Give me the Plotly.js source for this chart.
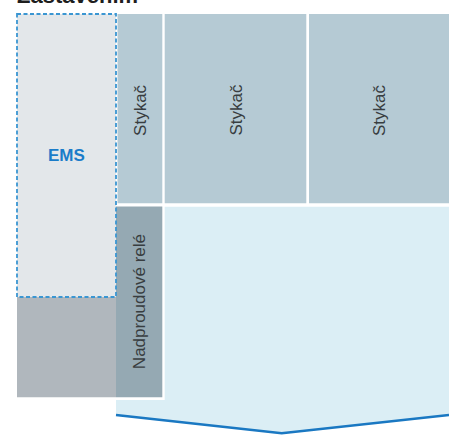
<!DOCTYPE html>
<html>
<head>
<meta charset="utf-8">
<script src="https://cdn.plot.ly/plotly-3.0.1.min.js"></script>
<style>html,body{margin:0;padding:0;background:#fff;}#chart{width:449px;height:435px;}</style>
</head>
<body>
<div id="chart"></div>
<script>
// ---- diagram content ----
const titleText = 'Zastavením';
const emsLabel = 'EMS';
const contactorLabels = ['Stykač', 'Stykač', 'Stykač'];
const relayLabel = 'Nadproudové relé';

// ---- block extents (diagram units, y grows downward) ----
const emsX = [17, 116];
const emsY = [14, 297];
const baseX = [17, 116];
const baseY = [297, 397.3];
const contactorX0 = [117.5, 164.7, 309];
const contactorX1 = [162.3, 306.3, 449];
const contactorY = [14, 203.3];
const relayX = [116, 162.3];
const relayY = [206.5, 397.3];
const zoneX = [116, 281.7, 449];
const zoneTopY = 206.7;
const zoneEdgeY = 415;
const zoneTipY = 433.3;

const shapes = [];
function rect(x0, x1, y0, y1, fill, line) {
  shapes.push({type: 'rect', xref: 'x', yref: 'y', x0: x0, x1: x1, y0: y0, y1: y1,
    fillcolor: fill, line: line || {width: 0}, layer: 'above'});
}

// light blue zone with chevron bottom
shapes.push({type: 'path', xref: 'x', yref: 'y', layer: 'above',
  path: 'M' + zoneX[0] + ',' + zoneTopY + ' L' + zoneX[2] + ',' + zoneTopY +
        ' L' + zoneX[2] + ',' + zoneEdgeY + ' L' + zoneX[1] + ',' + zoneTipY +
        ' L' + zoneX[0] + ',' + zoneEdgeY + ' Z',
  fillcolor: '#dbeef5', line: {width: 0}});
shapes.push({type: 'path', xref: 'x', yref: 'y', layer: 'above',
  path: 'M' + zoneX[0] + ',' + zoneEdgeY + ' L' + zoneX[1] + ',' + zoneTipY + ' L' + zoneX[2] + ',' + zoneEdgeY,
  line: {color: '#1a78c2', width: 2.5}});

// white outline around the relay block, then the relay
rect(relayX[0] - 1, relayX[1] + 2.4, relayY[0] - 3, relayY[1] + 2.7, '#ffffff');
rect(baseX[0], baseX[1], baseY[0], baseY[1], '#b0b7bd');
rect(relayX[0], relayX[1], relayY[0], relayY[1], '#95a9b3');

// contactors
for (let i = 0; i < contactorLabels.length; i++) {
  rect(contactorX0[i], contactorX1[i], contactorY[0], contactorY[1], '#b5cad4');
}

// EMS block with dashed outline
rect(emsX[0], emsX[1], emsY[0], emsY[1], '#e3e7ea', {color: '#3a96d2', width: 1.8, dash: '4px,2.5px'});

const annotations = [];
annotations.push({xref: 'x', yref: 'y', x: 15, y: 10.5, xanchor: 'left', yanchor: 'bottom',
  text: '<b>' + titleText + '</b>', showarrow: false,
  font: {family: 'Liberation Sans, Arial, sans-serif', size: 22, color: '#1e1e1e'}});
annotations.push({xref: 'x', yref: 'y', x: (emsX[0] + emsX[1]) / 2, y: 155, text: '<b>' + emsLabel + '</b>',
  showarrow: false, font: {family: 'Liberation Sans, Arial, sans-serif', size: 17, color: '#1a7cc9'}});
for (let i = 0; i < contactorLabels.length; i++) {
  annotations.push({xref: 'x', yref: 'y', x: (contactorX0[i] + contactorX1[i]) / 2, y: 110,
    text: contactorLabels[i], textangle: -90, showarrow: false,
    font: {family: 'Liberation Sans, Arial, sans-serif', size: 17, color: '#383d40'}});
}
annotations.push({xref: 'x', yref: 'y', x: (relayX[0] + relayX[1]) / 2, y: 302,
  text: relayLabel, textangle: -90, showarrow: false,
  font: {family: 'Liberation Sans, Arial, sans-serif', size: 17, color: '#383d40'}});

const layout = {
  width: 449, height: 435,
  margin: {l: 0, r: 0, t: 0, b: 0, pad: 0},
  paper_bgcolor: '#ffffff', plot_bgcolor: '#ffffff',
  xaxis: {range: [0, 449], visible: false, fixedrange: true},
  yaxis: {range: [435, 0], visible: false, fixedrange: true},
  showlegend: false,
  shapes: shapes,
  annotations: annotations
};

Plotly.newPlot('chart', [{x: [], y: [], type: 'scatter', mode: 'markers', hoverinfo: 'skip'}], layout,
  {staticPlot: true, displayModeBar: false});
</script>
</body>
</html>
